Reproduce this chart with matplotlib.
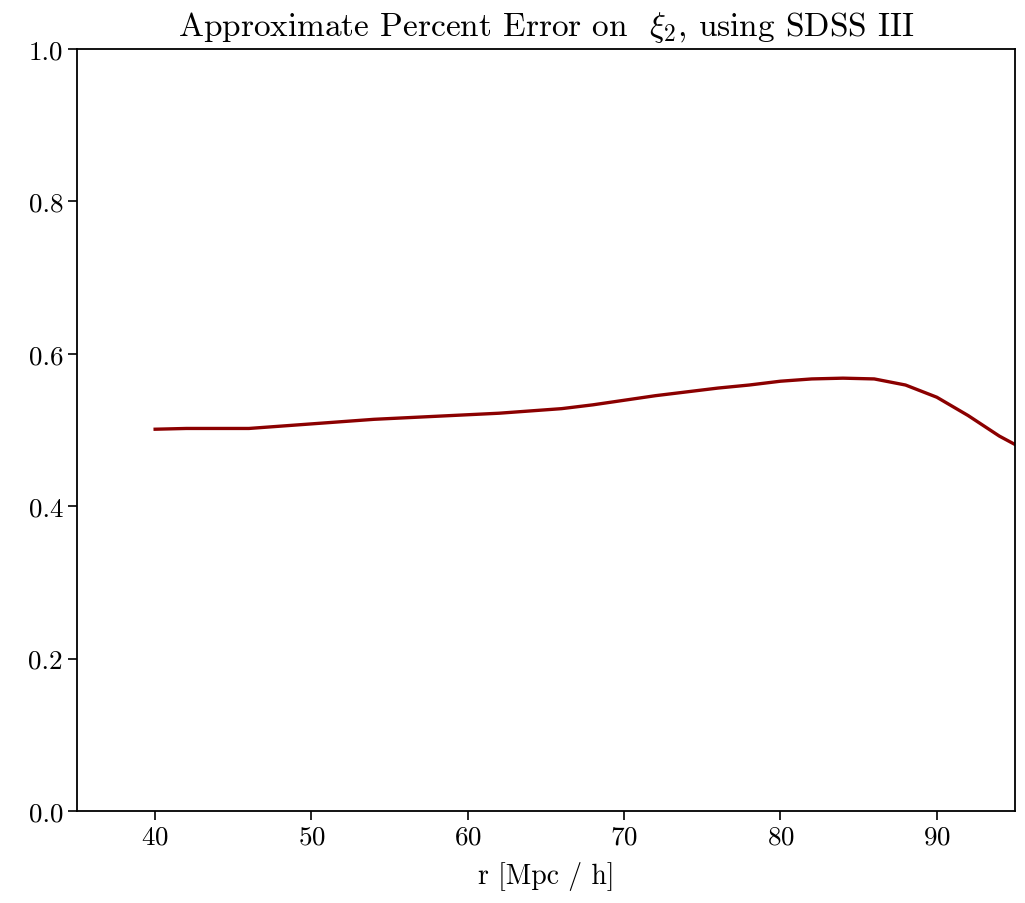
import matplotlib
matplotlib.use("Agg")
import matplotlib.pyplot as plt

r_vals = [40, 42, 44, 46, 48, 50, 52, 54, 56, 58, 60, 62, 64, 66, 68, 70,
          72, 74, 76, 78, 80, 82, 84, 86, 88, 90, 92, 94, 96]
err_vals = [0.501, 0.502, 0.502, 0.502, 0.505, 0.508, 0.511, 0.514, 0.516,
            0.518, 0.520, 0.522, 0.525, 0.528, 0.533, 0.539, 0.545, 0.550,
            0.555, 0.559, 0.564, 0.567, 0.568, 0.567, 0.559, 0.543, 0.519,
            0.492, 0.470]
x_ticks = [40, 50, 60, 70, 80, 90]
y_ticks = [0.0, 0.2, 0.4, 0.6, 0.8, 1.0]

plt.rcParams['font.family'] = 'serif'
plt.rcParams['font.serif'] = ['cmr10']
plt.rcParams['mathtext.fontset'] = 'cm'
plt.rcParams['axes.formatter.use_mathtext'] = True

fig = plt.figure(figsize=(10.25, 9.04), dpi=100)
ax = fig.add_axes([0.0751, 0.1018, 0.9151, 0.8429])
ax.plot(r_vals, err_vals, color='#8b0000', linewidth=2.4)
ax.set_xlim(35, 95)
ax.set_ylim(0, 1)
ax.set_xticks(x_ticks)
ax.set_yticks(y_ticks)
ax.set_yticklabels([f"{v:.1f}" for v in y_ticks])
ax.tick_params(labelsize=19.5, length=6.5, width=1.2)
for s in ax.spines.values():
    s.set_linewidth(1.3)
ax.set_xlabel("r [Mpc / h]", fontsize=20, labelpad=9)
ax.set_title(r"Approximate Percent Error on  $\xi_2$, using SDSS III", fontsize=24, pad=10)
fig.savefig("out.png", dpi=100)
